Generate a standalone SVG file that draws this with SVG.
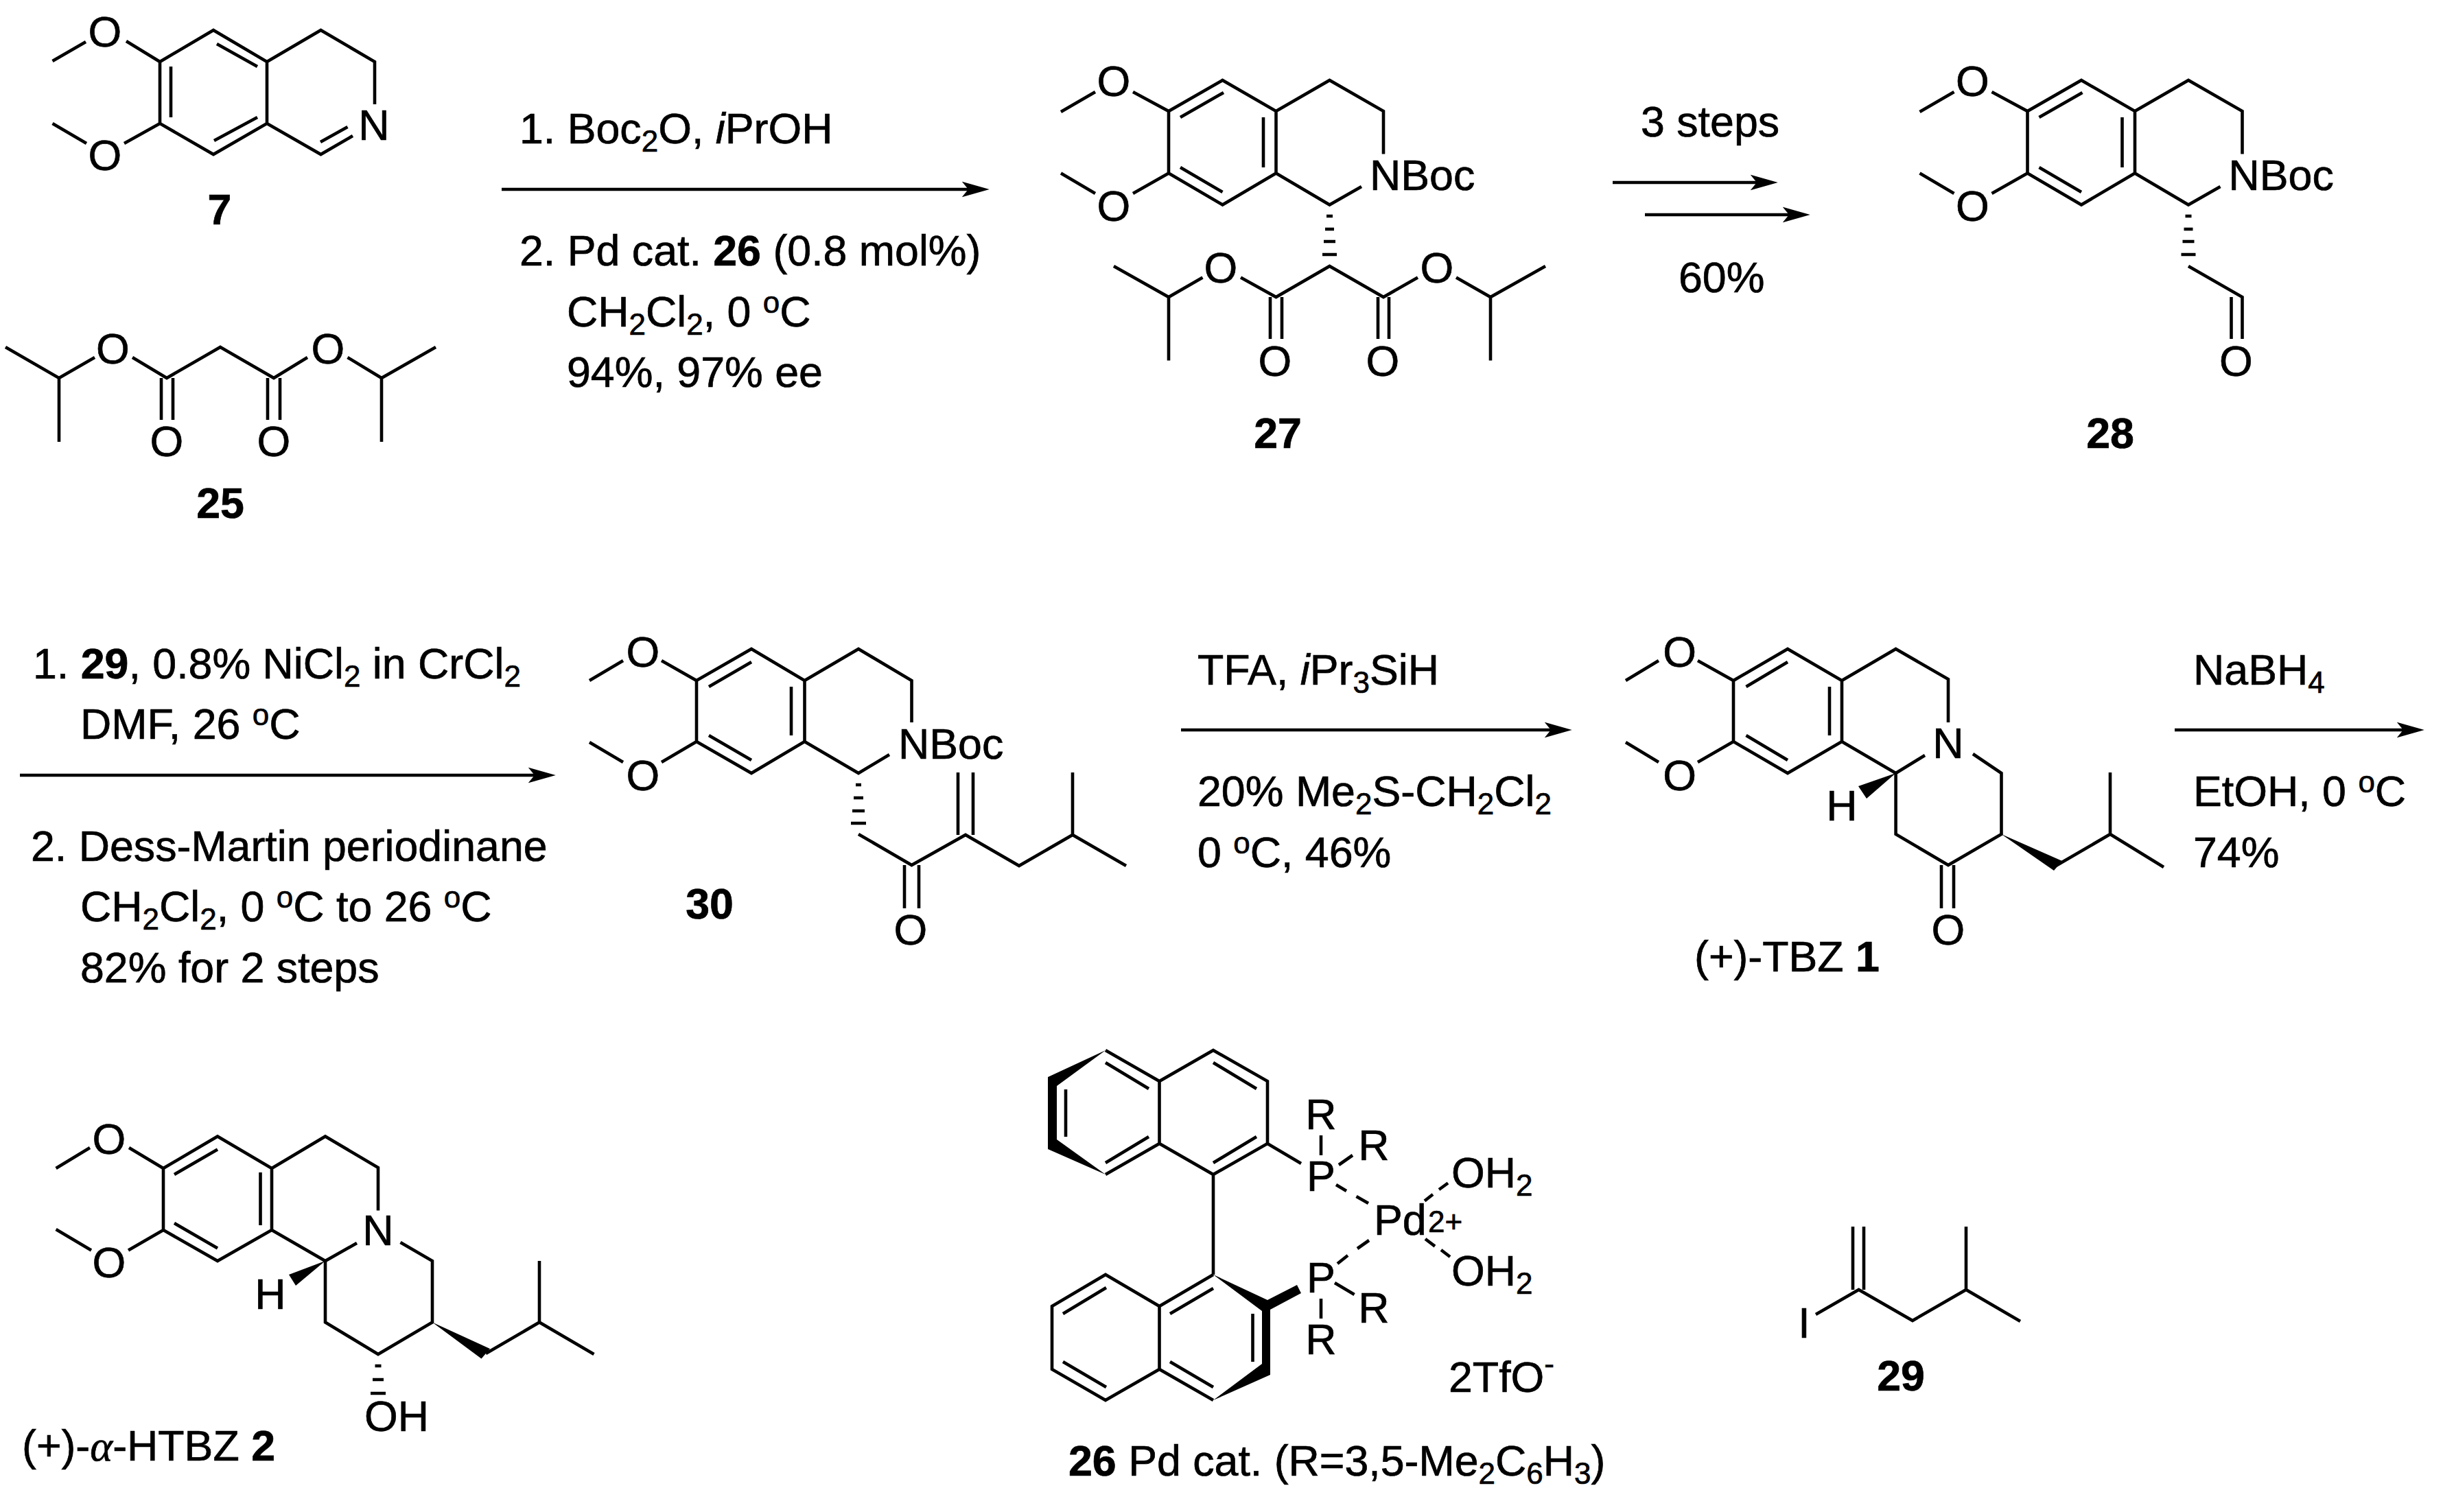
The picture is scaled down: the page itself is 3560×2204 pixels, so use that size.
<svg xmlns="http://www.w3.org/2000/svg" width="3560" height="2204" viewBox="0 0 3560 2204">
<style>
text{font-family:"Liberation Sans",Arial,sans-serif;font-size:62.7px;fill:#000;stroke:#000;stroke-width:.7}
.m{text-anchor:middle}
.bd{font-weight:bold}
.s{font-size:44px}
.a{font-family:"Liberation Serif",serif;font-style:italic}
.b{fill:none;stroke:#000;stroke-width:4.6;stroke-linejoin:miter}
.f{fill:#000;stroke:none}
.r{fill:none;stroke:#000;stroke-width:4.5;marker-end:url(#head)}
</style>
<defs>
<marker id="head" markerUnits="userSpaceOnUse" markerWidth="40" markerHeight="24" viewBox="0 0 39 22" refX="9" refY="11" orient="auto"><path d="M0,0L39,11L0,22L9,11Z"/></marker>
</defs>
<rect width="3560" height="2204" fill="#fff"/>
<g id="connectors">
<line class="r" x1="731" y1="276" x2="1411" y2="276"/>
<line class="r" x1="2350" y1="266" x2="2560" y2="266"/>
<line class="r" x1="2397" y1="313" x2="2607" y2="313"/>
<line class="r" x1="29" y1="1130" x2="779" y2="1130"/>
<line class="r" x1="1721" y1="1064" x2="2260" y2="1064"/>
<line class="r" x1="3169" y1="1064" x2="3502" y2="1064"/>
</g>
<g id="compound-7">
<path class="b" d="M76.5,89L125,61M184,60L233,90L311,44L389,90L389,180L311,225L233,180L233,90M389,90L467.5,44L546,90L546,152M389,180L467.5,225L514,198M233,180L181,209M126,209L76.5,180M249,97L249,171M316,64L375,97M312,205L375,171M467,207L506.5,185"/>
<text class="m" x="153" y="67.5">O</text><text class="m" x="153" y="248">O</text><text class="m" x="545" y="204">N</text>
<text class="m bd" x="320" y="327">7</text>
</g>
<g id="compound-25">
<path class="b" d="M8,506L86,551L86,644M86,551L138,521M193,521L243,551L321,506L399,551L448,521M506.5,521L556,551L635,506M556,551L556,644M235,551L235,612M252,551L252,612M390,551L390,612M408,551L408,612"/>
<text class="m" x="164.5" y="530">O</text><text class="m" x="478" y="530">O</text><text class="m" x="243" y="665">O</text><text class="m" x="399" y="665">O</text>
<text class="m bd" x="321" y="755">25</text>
</g>
<g id="conditions-1">
<text x="757" y="209">1. Boc<tspan class="s" dy="12">2</tspan><tspan dy="-12">O, </tspan><tspan font-style="italic">i</tspan>PrOH</text>
<text x="757" y="387">2. Pd cat. <tspan class="bd">26</tspan> (0.8 mol%)</text>
<text x="826" y="476">CH<tspan class="s" dy="12">2</tspan><tspan dy="-12">Cl</tspan><tspan class="s" dy="12">2</tspan><tspan dy="-12">, 0 </tspan><tspan class="s" dy="-20">o</tspan><tspan dy="20">C</tspan></text>
<text x="826" y="564">94%, 97% ee</text>
</g>
<g id="compound-27">
<path class="b" d="M1546,163L1596,134M1651,134L1703,162L1781.5,117L1859.5,162L1859.5,252.5L1781.5,298.5L1703,252.5L1703,162M1859.5,162L1937.5,117L2016,162L2016,224.5M1984,272L1937.5,298.5L1859.5,252.5M1703,252.5L1651,282M1596,282L1546,252.5M1720,171L1783,135M1841,171L1841,244M1720,244L1781.5,280"/>
<path class="b" d="M1933,315L1942,315M1931,334L1944,334M1929,352L1946,352M1927,371L1948,371"/>
<path class="b" d="M1808,404.5L1859.5,433L1937.5,388L2016,433L2066,404.5M1752.5,404.5L1703,433L1623,388M1703,433L1703,525.5M2122,404.5L2172,433L2252,388M2172,433L2172,525.5M1851,433L1851,494M1868,433L1868,494M2008,433L2008,494M2024,433L2024,494"/>
<text class="m" x="1623" y="140">O</text><text class="m" x="1623" y="322">O</text><text x="1996" y="277">NBoc</text>
<text class="m" x="1779" y="412">O</text><text class="m" x="2094" y="412">O</text><text class="m" x="1858" y="548">O</text><text class="m" x="2015" y="548">O</text>
<text class="m bd" x="1862" y="653">27</text>
</g>
<g id="conditions-2">
<text x="2391" y="199">3 steps</text>
<text x="2446" y="426">60%</text>
</g>
<g id="compound-28" transform="translate(1251.5,0)">
<path class="b" d="M1546,163L1596,134M1651,134L1703,162L1781.5,117L1859.5,162L1859.5,252.5L1781.5,298.5L1703,252.5L1703,162M1859.5,162L1937.5,117L2016,162L2016,224.5M1984,272L1937.5,298.5L1859.5,252.5M1703,252.5L1651,282M1596,282L1546,252.5M1720,171L1783,135M1841,171L1841,244M1720,244L1781.5,280"/>
<path class="b" d="M1933,315L1942,315M1931,334L1944,334M1929,352L1946,352M1927,371L1948,371"/>
<path class="b" d="M1937.5,388L2016,433L2016,494M2000,433L2000,494"/>
<text class="m" x="1623" y="140">O</text><text class="m" x="1623" y="322">O</text><text x="1996" y="277">NBoc</text>
<text class="m" x="2007" y="548">O</text>
<text class="m bd" x="1823.5" y="653">28</text>
</g>
<g id="conditions-3">
<text x="48" y="989">1. <tspan class="bd">29</tspan>, 0.8% NiCl<tspan class="s" dy="12">2</tspan><tspan dy="-12"> in CrCl</tspan><tspan class="s" dy="12">2</tspan></text>
<text x="117" y="1077">DMF, 26 <tspan class="s" dy="-20">o</tspan><tspan dy="20">C</tspan></text>
<text x="45" y="1255">2. Dess-Martin periodinane</text>
<text x="117" y="1343">CH<tspan class="s" dy="12">2</tspan><tspan dy="-12">Cl</tspan><tspan class="s" dy="12">2</tspan><tspan dy="-12">, 0 </tspan><tspan class="s" dy="-20">o</tspan><tspan dy="20">C to 26 </tspan><tspan class="s" dy="-20">o</tspan><tspan dy="20">C</tspan></text>
<text x="117" y="1432">82% for 2 steps</text>
</g>
<g id="compound-30">
<path class="b" d="M859,992L908,963M964,963L1015,992L1095,946L1172.5,992L1172.5,1081L1095,1127L1015,1081L1015,992M1172.5,992L1251,946L1328.5,992L1328.5,1053M1296,1100L1251,1127L1172.5,1081M1015,1081L964,1111M908,1111L859,1082M1033,1001L1095,965M1153,1001L1153,1072M1033,1072L1095,1108"/>
<path class="b" d="M1247,1144L1255,1144M1244,1163L1258,1163M1242,1182L1260,1182M1240,1200L1262,1200"/>
<path class="b" d="M1251,1216L1328.5,1261L1407,1217L1485,1262L1563,1217L1641,1262M1563,1217L1563,1126M1396,1217L1396,1126M1418,1217L1418,1126M1318,1261L1318,1324M1339,1261L1339,1324"/>
<text class="m" x="937" y="972">O</text><text class="m" x="937" y="1152">O</text><text x="1309" y="1106">NBoc</text><text class="m" x="1327" y="1377">O</text>
<text class="m bd" x="1034" y="1339">30</text>
</g>
<g id="conditions-4">
<text x="1745" y="998">TFA, <tspan font-style="italic">i</tspan>Pr<tspan class="s" dy="12">3</tspan><tspan dy="-12">SiH</tspan></text>
<text x="1745" y="1175">20% Me<tspan class="s" dy="12">2</tspan><tspan dy="-12">S-CH</tspan><tspan class="s" dy="12">2</tspan><tspan dy="-12">Cl</tspan><tspan class="s" dy="12">2</tspan></text>
<text x="1745" y="1264">0 <tspan class="s" dy="-20">o</tspan><tspan dy="20">C, 46%</tspan></text>
</g>
<g id="compound-1">
<path class="b" d="M2369,992L2417,963M2474,963L2526,992L2605,946L2684,992L2684,1081L2605,1127L2526,1081L2526,992M2684,992L2762.6,946L2839,990L2839,1053M2805,1101L2762.6,1127L2684,1081M2526,1081L2474,1111M2417,1111L2369,1082M2544.5,1001L2605,965M2666,1001L2666,1072M2544.5,1072L2605,1108"/>
<path class="b" d="M2762.6,1127L2762.6,1216L2839,1261L2916.5,1216L2916.5,1127L2875,1099M2996,1262L3075,1216L3153,1264M3075,1216L3075,1126M2829,1261L2829,1324M2847,1261L2847,1324"/>
<polygon class="f" points="2762.6,1127 2708,1146 2720,1164"/>
<polygon class="f" points="2916.5,1216 3005,1255 2993,1269"/>
<text class="m" x="2447.6" y="972">O</text><text class="m" x="2447.6" y="1152">O</text><text class="m" x="2839" y="1105">N</text><text class="m" x="2684" y="1196">H</text><text class="m" x="2839" y="1377">O</text>
<text x="2469" y="1416">(+)-TBZ <tspan class="bd">1</tspan></text>
</g>
<g id="conditions-5">
<text x="3196" y="998">NaBH<tspan class="s" dy="12">4</tspan></text>
<text x="3196" y="1175">EtOH, 0 <tspan class="s" dy="-20">o</tspan><tspan dy="20">C</tspan></text>
<text x="3196" y="1264">74%</text>
</g>
<g id="compound-2">
<path class="b" d="M81.6,1703L131,1673M188,1673L238,1703L317,1656.5L396,1703L396,1793L317,1838L238,1793L238,1703M396,1703L474,1656.5L551,1702L551,1764.5M520,1812L474,1838L396,1793M238,1793L187,1822.5M133,1822.5L81.6,1792M254,1712L317,1675.5M379.5,1709L379.5,1786M254,1783L317,1819.5"/>
<path class="b" d="M474,1838L474,1927.5L551,1974L630,1927.5L630,1838L583.5,1811M708,1973L786,1927.5L865.5,1974M786,1927.5L786,1838"/>
<path class="b" d="M546.5,1991L555.5,1991M543,2011L559,2011M540,2031L562,2031"/>
<polygon class="f" points="474,1838 421,1858 431,1874"/>
<polygon class="f" points="630,1927.5 714,1966 701.5,1980.5"/>
<text class="m" x="159" y="1682">O</text><text class="m" x="159" y="1862">O</text><text class="m" x="551" y="1815">N</text><text class="m" x="394" y="1908">H</text>
<text x="531" y="2086">OH</text>
<text x="32" y="2129">(+)-<tspan class="a">α</tspan>-HTBZ <tspan class="bd">2</tspan></text>
</g>
<g id="compound-26">
<polygon class="f" points="1611,1531 1527,1570 1527,1675 1611,1712 1540,1661 1540,1583"/>
<path class="b" d="M1611,1531L1689.5,1576L1768,1531L1847,1576L1847,1667L1768,1712L1689.5,1667L1611,1712M1689.5,1576L1689.5,1667M1611,1549L1674,1587M1553,1588L1553,1657M1611,1695L1674,1657M1768,1549L1831,1587M1768,1695L1831,1657M1768,1712L1768,1858"/>
<polygon class="f" points="1768,1858 1847,1895 1890,1873 1896,1885 1851,1909 1851,2004 1768,2041 1839,1988 1839,1911"/>
<path class="b" d="M1768,1858L1689.5,1904L1611,1858L1533,1904L1533,1996L1611,2041L1689.5,1996L1768,2041M1689.5,1904L1689.5,1996M1549,1915L1612,1877M1549,1985L1612,2022M1705,1915L1768,1878M1705,1985L1768,2022M1825.5,1915L1825.5,1985"/>
<path class="b" d="M1847,1667L1896,1696M1925,1655L1925,1684M1951,1698L1971,1684M1947,1727L1962,1736M1976.5,1744L1994,1754M1995,1808L1978,1820M1964,1830L1949,1842M2110,1724.5L2097,1734M2088,1741L2076,1750.5M2077,1806L2091,1816.6M2100,1822L2113,1832M1925,1893L1925,1922M1945,1870L1973.6,1887"/>
<text class="m" x="1925" y="1736">P</text><text class="m" x="1925" y="1646">R</text><text class="m" x="2002" y="1691">R</text>
<text x="2002" y="1800">Pd</text><text class="s" x="2081" y="1796">2+</text>
<text x="2115" y="1731">OH<tspan class="s" dy="12">2</tspan></text>
<text x="2115" y="1874">OH<tspan class="s" dy="12">2</tspan></text>
<text class="m" x="1925" y="1884">P</text><text class="m" x="1925" y="1974">R</text><text class="m" x="2002" y="1928">R</text>
<text x="2111" y="2029">2TfO<tspan class="s" dy="-26">-</tspan></text>
<text x="1557" y="2151"><tspan class="bd">26</tspan> Pd cat. (R=3,5-Me<tspan class="s" dy="12">2</tspan><tspan dy="-12">C</tspan><tspan class="s" dy="12">6</tspan><tspan dy="-12">H</tspan><tspan class="s" dy="12">3</tspan><tspan dy="-12">)</tspan></text>
</g>
<g id="compound-29">
<path class="b" d="M2646,1916L2708.6,1880L2787,1925L2865,1880L2944,1926M2865,1880L2865,1788M2700,1880L2700,1788M2716,1880L2716,1788"/>
<text class="m" x="2629" y="1950">I</text>
<text class="m bd" x="2770" y="2027">29</text>
</g>
</svg>
